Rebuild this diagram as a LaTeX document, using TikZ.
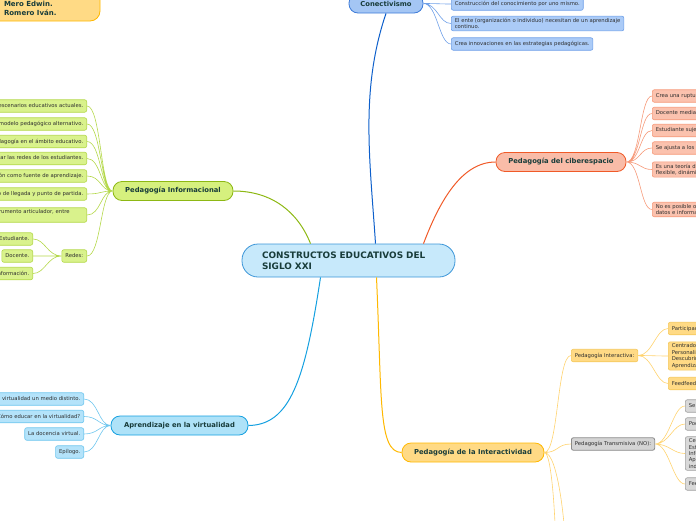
\documentclass[tikz,border=0pt]{standalone}
\usepackage{fontspec}
\setmainfont{DejaVu Sans}
\definecolor{topictext}{HTML}{183C3A}
\definecolor{leaftext}{HTML}{2E2E2E}
\definecolor{conline}{HTML}{0D5FCB}
\definecolor{confill}{HTML}{A4C6F4}
\definecolor{condraw}{HTML}{3E7BD8}
\definecolor{conleaf}{HTML}{ABCBF7}
\definecolor{conleafdraw}{HTML}{6FA0E8}
\definecolor{cibline}{HTML}{F05A28}
\definecolor{cibfill}{HTML}{F9BCA8}
\definecolor{cibleaf}{HTML}{FBC2AE}
\definecolor{cibleafdraw}{HTML}{F69A7A}
\definecolor{infline}{HTML}{8DB814}
\definecolor{inffill}{HTML}{D6F07E}
\definecolor{infleaf}{HTML}{D9F28C}
\definecolor{infleafdraw}{HTML}{B4D84A}
\definecolor{virline}{HTML}{14A0E0}
\definecolor{virfill}{HTML}{AEE2F8}
\definecolor{virleaf}{HTML}{B4E3FA}
\definecolor{virleafdraw}{HTML}{6EC6EE}
\definecolor{intline}{HTML}{FFB800}
\definecolor{intfill}{HTML}{FFDA85}
\definecolor{intleafdraw}{HTML}{F5C85A}
\definecolor{intlink}{HTML}{FFD36E}
\definecolor{trafill}{HTML}{D4D4D4}
\definecolor{tradraw}{HTML}{8A8A8A}
\definecolor{traleaf}{HTML}{D9D9D9}
\definecolor{raizfill}{HTML}{C7E9FB}
\definecolor{raizdraw}{HTML}{3C96D8}
\tikzset{
  leaf/.style={draw, rounded corners=2pt, line width=0.6pt, inner xsep=3.5pt,
    inner ysep=2pt, minimum height=12.5pt, align=left, text=leaftext,
    font=\fontsize{5.3}{6.4}\selectfont},
  topic/.style={draw, rounded corners=9pt, line width=0.8pt, minimum height=19pt,
    text=topictext, font=\bfseries\fontsize{6.8}{8}\selectfont},
  link/.style={line width=0.6pt},
  branch/.style={line width=1pt},
}
\begin{document}
\begin{tikzpicture}[x=1pt,y=-1pt]
  \useasboundingbox (0,0) rectangle (696,520);
  \clip (0,0) rectangle (696,520);
  % authors box
  \draw[rounded corners=10pt, fill=intfill, draw=intline, line width=0.8pt] (-30,-30) rectangle (100,21);
  \node[anchor=west, align=left, text=topictext, font=\bfseries\fontsize{7}{9}\selectfont] (autores) at (0.5,8.5) {Mero Edwin.\\Romero Iván.};
  % central topic
  \node[draw=raizdraw, fill=raizfill, line width=0.8pt, rounded corners=16pt, minimum width=213pt,
    minimum height=33pt, text width=173pt, inner xsep=20pt, align=left, text=topictext,
    font=\bfseries\fontsize{8.9}{11}\selectfont] (raiz) at (348.5,260.5) {CONSTRUCTOS EDUCATIVOS DEL\\SIGLO XXI};
  % main topics
  \node[topic, fill=confill, draw=condraw, minimum width=74pt] (con) at (386,3.5) {Conectivismo};
  \node[topic, fill=cibfill, draw=cibline, minimum width=130pt] (cib) at (561,162) {Pedagogía del ciberespacio};
  \node[topic, fill=inffill, draw=infline, minimum width=120pt] (inf) at (173,191) {Pedagogía Informacional};
  \node[topic, fill=virfill, draw=virline, minimum width=137pt] (vir) at (179.5,425.5) {Aprendizaje en la virtualidad};
  \node[topic, fill=intfill, draw=intline, minimum width=142pt] (inter) at (473,452.5) {Pedagogía de la Interactividad};
  % branches from the centre
  \draw[branch, conline] ([xshift=27pt]raiz.north) .. controls (370,160) and (360,90) .. (con.south);
  \draw[branch, cibline] ([xshift=75pt]raiz.north) .. controls (440,200) and (462,162) .. (cib.west);
  \draw[branch, infline] ([xshift=-38pt]raiz.north) .. controls (298,212) and (272,191) .. (inf.east);
  \draw[branch, virline] ([xshift=-28pt]raiz.south) .. controls (305,380) and (290,425) .. (vir.east);
  \draw[branch, intline] ([xshift=28pt]raiz.south) .. controls (382,400) and (378,452) .. (inter.west);
  % conectivismo leaves
  \node[leaf, fill=conleaf, draw=conleafdraw, anchor=west] (con1) at (451,4) {Construcción del conocimiento por uno mismo.};
  \node[leaf, fill=conleaf, draw=conleafdraw, anchor=west] (con2) at (451,23.5) {El ente (organización o individuo) necesitan de un aprendizaje\\continuo.};
  \node[leaf, fill=conleaf, draw=conleafdraw, anchor=west] (con3) at (451,44) {Crea innovaciones en las estrategias pedagógicas.};
  \draw[link, conleafdraw] (con.east) .. controls +(14,0) and +(-12,0) .. (con1.west)
    (con.east) .. controls +(14,0) and +(-12,0) .. (con2.west)
    (con.east) .. controls +(14,0) and +(-12,0) .. (con3.west);
  % ciberespacio leaves
  \node[leaf, fill=cibleaf, draw=cibleafdraw, anchor=west] (cib1) at (652,96) {Crea una ruptura con el modelo tradicional.};
  \node[leaf, fill=cibleaf, draw=cibleafdraw, anchor=west] (cib2) at (652,113.5) {Docente mediador del aprendizaje.};
  \node[leaf, fill=cibleaf, draw=cibleafdraw, anchor=west] (cib3) at (652,130.5) {Estudiante sujeto activo.};
  \node[leaf, fill=cibleaf, draw=cibleafdraw, anchor=west] (cib4) at (652,148) {Se ajusta a los cambios.};
  \node[leaf, fill=cibleaf, draw=cibleafdraw, anchor=west] (cib5) at (652,169.5) {Es una teoría del aprendizaje\\flexible, dinámica.};
  \node[leaf, fill=cibleaf, draw=cibleafdraw, anchor=west] (cib6) at (652,209.5) {No es posible ordenar los\\datos e información.};
  \draw[link, cibleafdraw] (cib.east) .. controls +(14,0) and +(-12,0) .. (cib1.west)
    (cib.east) .. controls +(14,0) and +(-12,0) .. (cib2.west)
    (cib.east) .. controls +(14,0) and +(-12,0) .. (cib3.west)
    (cib.east) .. controls +(14,0) and +(-12,0) .. (cib4.west)
    (cib.east) .. controls +(14,0) and +(-12,0) .. (cib5.west)
    (cib.east) .. controls +(14,0) and +(-12,0) .. (cib6.west);
  % informacional leaves
  \node[leaf, fill=infleaf, draw=infleafdraw, anchor=east] (inf1) at (87,106) {Pedagogía para los escenarios educativos actuales.};
  \node[leaf, fill=infleaf, draw=infleafdraw, anchor=east] (inf2) at (87,124) {Un modelo pedagógico alternativo.};
  \node[leaf, fill=infleaf, draw=infleafdraw, anchor=east] (inf3) at (87,141.5) {Uso de la pedagogía en el ámbito educativo.};
  \node[leaf, fill=infleaf, draw=infleafdraw, anchor=east] (inf4) at (87,158.5) {Aprovechar las redes de los estudiantes.};
  \node[leaf, fill=infleaf, draw=infleafdraw, anchor=east] (inf5) at (87,176) {La información como fuente de aprendizaje.};
  \node[leaf, fill=infleaf, draw=infleafdraw, anchor=east] (inf6) at (87,194) {Punto de llegada y punto de partida.};
  \node[leaf, fill=infleaf, draw=infleafdraw, anchor=east, text width=140pt] (inf7) at (87,215) {El docente como instrumento articulador, entre\\la red.};
  \node[leaf, fill=infleaf, draw=infleafdraw, anchor=east] (redes) at (87,256) {Redes:};
  \node[leaf, fill=infleaf, draw=infleafdraw, anchor=east] (red1) at (33,239) {Estudiante.};
  \node[leaf, fill=infleaf, draw=infleafdraw, anchor=east] (red2) at (33,256) {Docente.};
  \node[leaf, fill=infleaf, draw=infleafdraw, anchor=east] (red3) at (33,273.5) {Información.};
  \draw[link, infleafdraw] (inf1.east) .. controls +(14,0) and +(-12,0) .. (inf.west)
    (inf2.east) .. controls +(14,0) and +(-12,0) .. (inf.west)
    (inf3.east) .. controls +(14,0) and +(-12,0) .. (inf.west)
    (inf4.east) .. controls +(14,0) and +(-12,0) .. (inf.west)
    (inf5.east) .. controls +(14,0) and +(-12,0) .. (inf.west)
    (inf6.east) .. controls +(14,0) and +(-12,0) .. (inf.west)
    (inf7.east) .. controls +(14,0) and +(-12,0) .. (inf.west)
    (redes.east) .. controls +(14,0) and +(-12,0) .. (inf.west);
  \draw[link, infleafdraw] (redes.west) .. controls +(-14,0) and +(12,0) .. (red1.east)
    (redes.west) .. controls +(-14,0) and +(12,0) .. (red2.east)
    (redes.west) .. controls +(-14,0) and +(12,0) .. (red3.east);
  % virtualidad leaves
  \node[leaf, fill=virleaf, draw=virleafdraw, anchor=east] (vir1) at (84,399) {Es la virtualidad un medio distinto.};
  \node[leaf, fill=virleaf, draw=virleafdraw, anchor=east] (vir2) at (84,416.5) {¿Cómo educar en la virtualidad?};
  \node[leaf, fill=virleaf, draw=virleafdraw, anchor=east] (vir3) at (84,434) {La docencia virtual.};
  \node[leaf, fill=virleaf, draw=virleafdraw, anchor=east] (vir4) at (84,452) {Epílogo.};
  \draw[link, virleafdraw] (vir1.east) .. controls +(14,0) and +(-12,0) .. (vir.west)
    (vir2.east) .. controls +(14,0) and +(-12,0) .. (vir.west)
    (vir3.east) .. controls +(14,0) and +(-12,0) .. (vir.west)
    (vir4.east) .. controls +(14,0) and +(-12,0) .. (vir.west);
  % interactividad
  \node[leaf, fill=intfill, draw=intleafdraw, anchor=west] (pint) at (571,355.5) {Pedagogía Interactiva:};
  \node[leaf, fill=trafill, draw=tradraw, anchor=west, line width=0.8pt] (ptra) at (571,444) {Pedagogía Transmisiva (NO):};
  \coordinate (intout1) at (556,560);
  \coordinate (intout2) at (566,560);
  \draw[link, intlink] (inter.east) .. controls +(14,0) and +(-14,0) .. (pint.west)
    (inter.east) .. controls +(14,0) and +(-14,0) .. (ptra.west)
    (inter.east) .. controls +(8,0) and +(0,-30) .. (intout1)
    (inter.east) .. controls +(14,0) and +(0,-30) .. (intout2);
  \node[leaf, fill=intfill, draw=intleafdraw, anchor=west] (pint1) at (668,328.5) {Participación activa.};
  \node[leaf, fill=intfill, draw=intleafdraw, anchor=west] (pint2) at (668,356) {Centrado en el estudiante.\\Personalizado.\\Descubrimiento.\\Aprendizaje colaborativo.};
  \node[leaf, fill=intfill, draw=intleafdraw, anchor=west] (pint3) at (668,383.5) {Feedfeedback.};
  \draw[link, intlink] (pint.east) .. controls +(14,0) and +(-12,0) .. (pint1.west)
    (pint.east) .. controls +(14,0) and +(-12,0) .. (pint2.west)
    (pint.east) .. controls +(14,0) and +(-12,0) .. (pint3.west);
  \node[leaf, fill=traleaf, draw=tradraw!80, anchor=west] (ptra1) at (685,406) {Se centra en el docente.};
  \node[leaf, fill=traleaf, draw=tradraw!80, anchor=west] (ptra2) at (685,424) {Poca participación.};
  \node[leaf, fill=traleaf, draw=tradraw!80, anchor=west] (ptra3) at (685,453.5) {Centrado en el docente.\\Estudiante pasivo.\\Información unidireccional.\\Aprendizaje memorístico\\individual.};
  \node[leaf, fill=traleaf, draw=tradraw!80, anchor=west] (ptra4) at (685,484) {Feedback limitado.};
  \draw[link, intlink] (ptra.east) .. controls +(14,0) and +(-12,0) .. (ptra1.west)
    (ptra.east) .. controls +(14,0) and +(-12,0) .. (ptra2.west)
    (ptra.east) .. controls +(14,0) and +(-12,0) .. (ptra3.west)
    (ptra.east) .. controls +(14,0) and +(-12,0) .. (ptra4.west);
\end{tikzpicture}
\end{document}
